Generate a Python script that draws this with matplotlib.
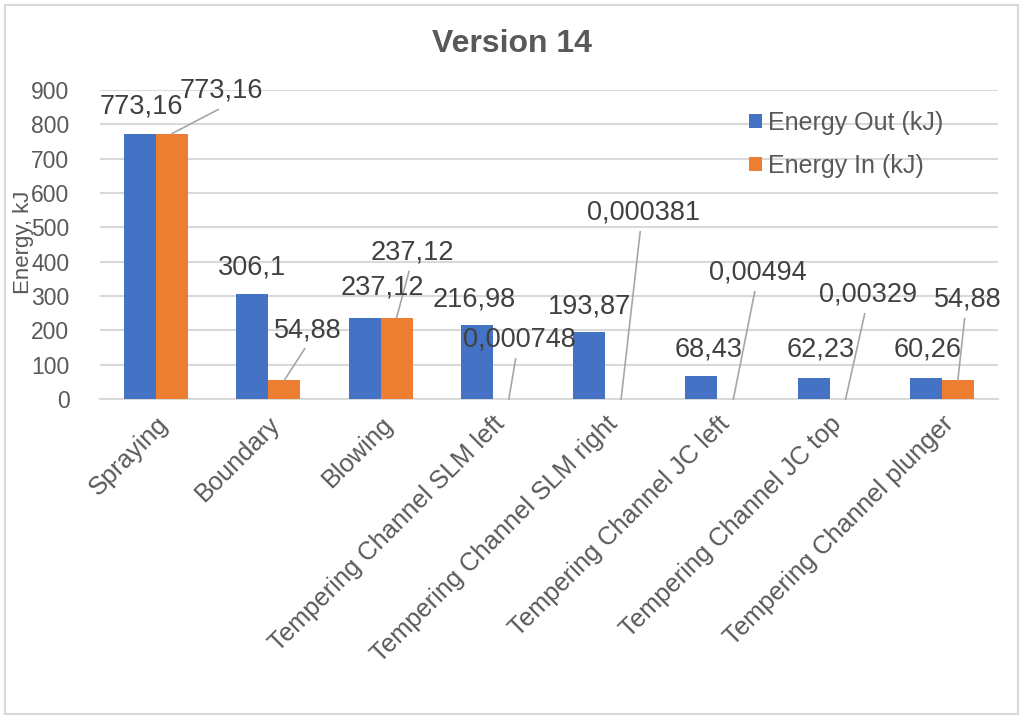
import matplotlib

matplotlib.use("Agg")
import matplotlib.pyplot as plt
import numpy as np
from matplotlib.patches import Rectangle

categories = [
    "Spraying",
    "Boundary",
    "Blowing",
    "Tempering Channel SLM left",
    "Tempering Channel SLM right",
    "Tempering Channel JC left",
    "Tempering Channel JC top",
    "Tempering Channel plunger",
]
energy_out = [773.16, 306.1, 237.12, 216.98, 193.87, 68.43, 62.23, 60.26]
energy_in = [773.16, 54.88, 237.12, 0.000748, 0.000381, 0.00494, 0.00329, 54.88]
out_labels = ["773,16", "306,1", "237,12", "216,98", "193,87", "68,43", "62,23", "60,26"]
in_labels = ["773,16", "54,88", "237,12", "0,000748", "0,000381", "0,00494", "0,00329", "54,88"]

# label offsets from bar top (dx in category units, dy in kJ); the "in" labels get leader lines
out_offsets = [(0.015, 78), (0.0, 76), (0.16, 87), (-0.025, 72), (0.0, 77), (0.065, 75), (0.06, 81), (0.02, 83)]
in_offsets = [(0.44, 125), (0.21, 146), (0.14, 189), (0.09, 172), (0.2, 542), (0.22, 367), (0.2, 303), (0.09, 234)]

BLUE = "#4472C4"
ORANGE = "#ED7D31"
TEXT = "#595959"
LABEL = "#404040"
GRID = "#D9D9D9"

plt.rcParams["font.family"] = ["Liberation Sans", "DejaVu Sans"]

fig = plt.figure(figsize=(10.23, 7.2), dpi=100)
ax = fig.add_axes([100 / 1023, 1 - 399 / 720, 898 / 1023, 309 / 720])

x = np.arange(len(categories))
w = 0.285
ax.bar(x - w / 2, energy_out, w, color=BLUE, label="Energy Out (kJ)", zorder=3)
ax.bar(x + w / 2, energy_in, w, color=ORANGE, label="Energy In (kJ)", zorder=3)

ax.set_xlim(-0.5, len(categories) - 0.5)
ax.set_ylim(0, 900)
ax.set_yticks(np.arange(0, 901, 100))
ax.grid(axis="y", color=GRID, linewidth=1.5, zorder=0)
for s in ["top", "right", "left"]:
    ax.spines[s].set_visible(False)
ax.spines["bottom"].set_color(GRID)
ax.spines["bottom"].set_linewidth(1.5)
ax.tick_params(axis="both", length=0, colors=TEXT)
ax.tick_params(axis="y", pad=22, labelsize=16.5)
ax.set_xticks(x)
ax.set_xticklabels(categories, rotation=45, ha="right", rotation_mode="anchor", fontsize=18.3)
ax.tick_params(axis="x", pad=9)

for i in range(len(categories)):
    dx, dy = out_offsets[i]
    ax.text(x[i] - w / 2 + dx, energy_out[i] + dy, out_labels[i], ha="center", va="center",
            fontsize=19.5, color=LABEL, zorder=5)
    dx, dy = in_offsets[i]
    lx, ly = x[i] + w / 2 + dx, energy_in[i] + dy
    ax.text(lx, ly, in_labels[i], ha="center", va="center", fontsize=19.5, color=LABEL, zorder=5)
    ax.plot([lx - 0.03, x[i] + w / 2], [ly - 55, energy_in[i]], color="#A6A6A6",
            linewidth=1.2, zorder=4, clip_on=False)

fig.text(23 / 1023, 1 - 242 / 720, "Energy, kJ", rotation=90, ha="center", va="center",
         fontsize=16, color=TEXT)
fig.text(512 / 1023, 1 - 44 / 720, "Version 14", ha="center", va="center", fontsize=23,
         fontweight="bold", color=TEXT)

leg = ax.legend(loc="upper left", bbox_to_anchor=(749 / 1023, 1 - 111 / 720),
                bbox_transform=fig.transFigure, frameon=False, fontsize=18,
                borderpad=0, borderaxespad=0,
                handlelength=0.5, handleheight=0.5, handletextpad=0.25, labelspacing=0.75)
for t in leg.get_texts():
    t.set_color(TEXT)

fig.patches.append(Rectangle((5 / 1023, 6 / 720), 1013 / 1023, 709 / 720, transform=fig.transFigure,
                             fill=False, edgecolor=GRID, linewidth=1.5))

fig.savefig("out.png", dpi=100)
